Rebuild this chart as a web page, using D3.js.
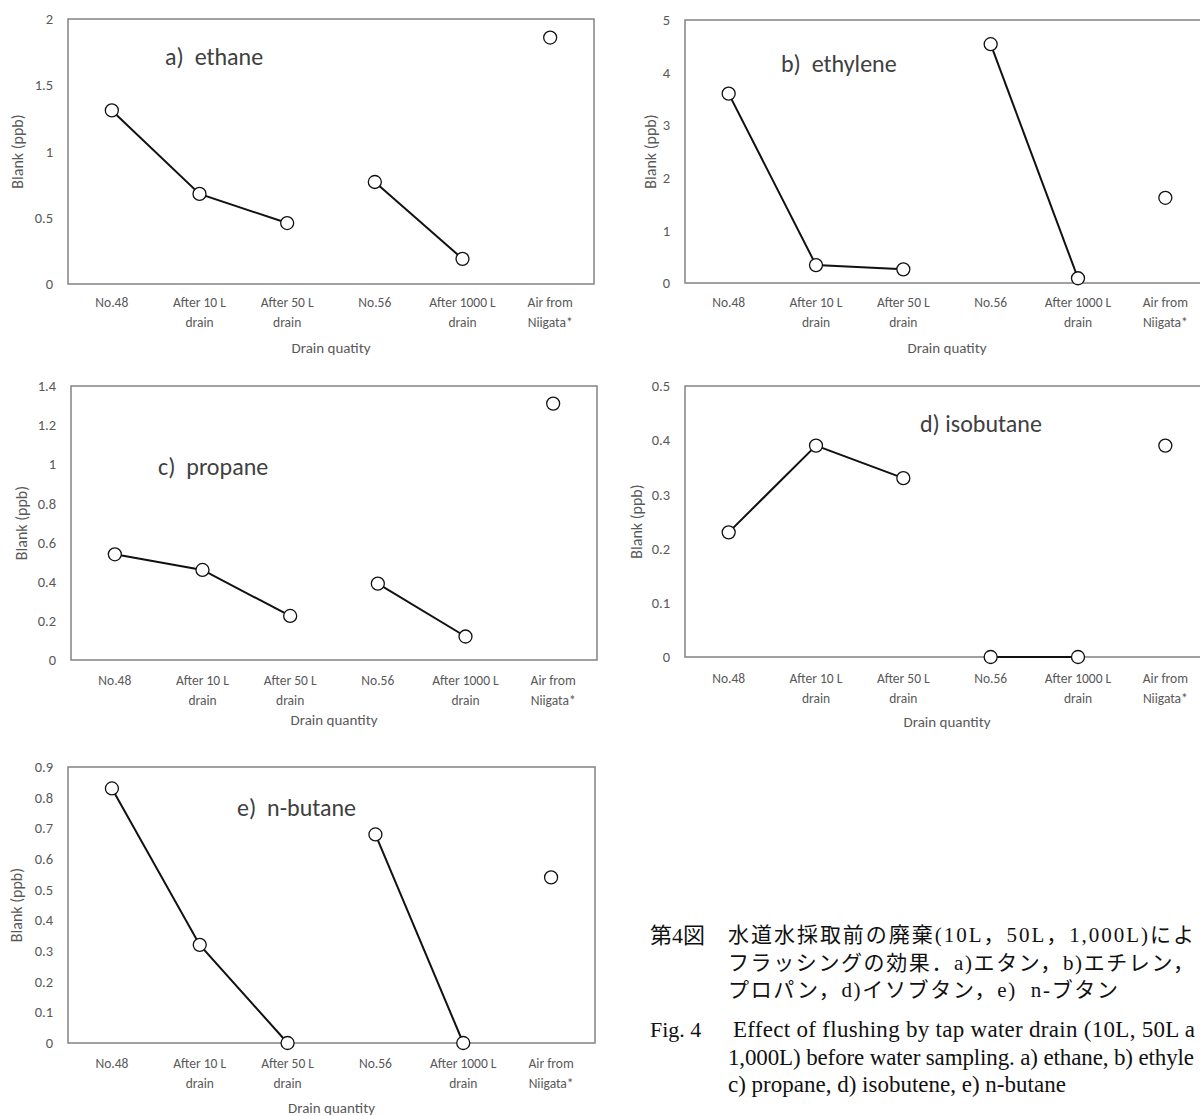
<!DOCTYPE html>
<html><head><meta charset="utf-8">
<script src="https://cdn.jsdelivr.net/npm/d3@7"></script>
<style>body{margin:0;background:#fff}svg{display:block}</style>
</head><body>
<svg id="chart" width="1200" height="1116"></svg>
<script>
// ---------- data ----------
const categories = ["No.48", "After 10 L\ndrain", "After 50 L\ndrain", "No.56", "After 1000 L\ndrain", "Air from\nNiigata*"];
const ethane    = [1.31, 0.68, 0.46, 0.77, 0.19, 1.86];
const ethylene  = [3.60, 0.34, 0.26, 4.54, 0.09, 1.62];
const propane   = [0.54, 0.46, 0.225, 0.39, 0.12, 1.31];
const isobutane = [0.23, 0.39, 0.33, 0, 0, 0.39];
const nButane   = [0.83, 0.32, 0, 0.68, 0, 0.54];
const ticksA = [0, 0.5, 1, 1.5, 2];
const ticksB = [0, 1, 2, 3, 4, 5];
const ticksC = [0, 0.2, 0.4, 0.6, 0.8, 1, 1.2, 1.4];
const ticksD = [0, 0.1, 0.2, 0.3, 0.4, 0.5];
const ticksE = [0, 0.1, 0.2, 0.3, 0.4, 0.5, 0.6, 0.7, 0.8, 0.9];
const segments = [[0, 1, 2], [3, 4], [5]];
const captionJa = ["水道水採取前の廃棄(10L，50L，1,000L)によ", "フラッシングの効果．a)エタン，b)エチレン，", "プロパン，d)イソブタン，e)  n-ブタン"];
const captionEn = ["Effect of flushing by tap water drain (10L, 50L a", "1,000L) before water sampling. a) ethane, b) ethyle", "c) propane, d) isobutene, e) n-butane"];

// ---------- layout ----------
const panels = [
  {title: "a)  ethane",   values: ethane,    ticks: ticksA, max: 2,   xTitle: "Drain quatity",  box: [68, 19, 594, 284],   tx: 165, ty: 57,  labR: 53,  yTx: 17,  tick1: 302, xTy: 348},
  {title: "b)  ethylene", values: ethylene,  ticks: ticksB, max: 5,   xTitle: "Drain quatity",  box: [685, 20, 1209, 283], tx: 781, ty: 64,  labR: 670, yTx: 650, tick1: 302, xTy: 348},
  {title: "c)  propane",  values: propane,   ticks: ticksC, max: 1.4, xTitle: "Drain quantity", box: [71, 386, 597, 660],  tx: 158, ty: 467, labR: 56,  yTx: 21,  tick1: 680, xTy: 720},
  {title: "d) isobutane", values: isobutane, ticks: ticksD, max: 0.5, xTitle: "Drain quantity", box: [685, 386, 1209, 657],tx: 920, ty: 424, labR: 670, yTx: 636, tick1: 678, xTy: 722},
  {title: "e)  n-butane", values: nButane,   ticks: ticksE, max: 0.9, xTitle: "Drain quantity", box: [68, 767, 595, 1043],  tx: 237, ty: 808, labR: 53,  yTx: 16,  tick1: 1063, xTy: 1108}
];

const svg = d3.select("#chart");
const FONT = "Carlito, Lato, 'Open Sans', sans-serif";
const GRAY = "#595959";

panels.forEach(p => {
  const [l, t, r, b] = p.box;
  const x = d3.scaleBand().domain(categories).range([l, r]);
  const y = d3.scaleLinear().domain([0, p.max]).range([b, t]);
  const cx = i => x(categories[i]) + x.bandwidth() / 2;
  const g = svg.append("g");

  // plot frame
  g.append("rect").attr("x", l).attr("y", t).attr("width", r - l).attr("height", b - t)
    .attr("fill", "none").attr("stroke", "#8a8a8a").attr("stroke-width", 1.6);

  // y axis
  const ya = g.append("g").attr("transform", `translate(${l},0)`)
    .call(d3.axisLeft(y).tickValues(p.ticks).tickSize(0).tickPadding(l - p.labR).tickFormat(d3.format("~g")));
  ya.select(".domain").remove();
  ya.selectAll("text").attr("font-family", FONT).attr("font-size", 14.5).attr("fill", GRAY);

  // x axis
  const xa = g.append("g").attr("transform", `translate(0,${b})`)
    .call(d3.axisBottom(x).tickSize(0));
  xa.select(".domain").remove();
  xa.selectAll(".tick text").each(function(d) {
    const s = d3.select(this);
    s.text(null).attr("y", null).attr("dy", null)
      .attr("font-family", FONT).attr("font-size", 13.5).attr("fill", GRAY);
    d.split("\n").forEach((line, i) => {
      s.append("tspan").attr("x", 0).attr("y", p.tick1 - b + i * 20).attr("dy", "0.35em").text(line);
    });
  });

  // axis titles
  g.append("text").attr("x", (l + r) / 2).attr("y", p.xTy).attr("dy", "0.35em")
    .attr("text-anchor", "middle").attr("font-family", FONT).attr("font-size", 15).attr("fill", GRAY)
    .text(p.xTitle);
  g.append("text").attr("transform", `translate(${p.yTx},${(t + b) / 2}) rotate(-90)`).attr("dy", "0.35em")
    .attr("text-anchor", "middle").attr("font-family", FONT).attr("font-size", 16).attr("fill", GRAY)
    .text("Blank (ppb)");

  // panel title
  g.append("text").attr("x", p.tx).attr("y", p.ty).attr("dy", "0.35em")
    .attr("font-family", FONT).attr("font-size", 24).attr("fill", "#404040")
    .style("white-space", "pre").text(p.title);

  // lines
  const line = d3.line().x(i => cx(i)).y(i => y(p.values[i]));
  segments.filter(s => s.length > 1).forEach(s => {
    g.append("path").attr("d", line(s)).attr("fill", "none").attr("stroke", "#111").attr("stroke-width", 2);
  });
  // markers
  g.selectAll("circle.m").data(p.values).join("circle").attr("class", "m")
    .attr("cx", (d, i) => cx(i)).attr("cy", d => y(d)).attr("r", 6.5)
    .attr("fill", "#fff").attr("stroke", "#111").attr("stroke-width", 1.3);
});

// ---------- caption ----------
const cap = svg.append("g").attr("font-family", "'Liberation Serif', 'Noto Sans CJK JP', serif").attr("fill", "#111");
const capYs = [935, 963, 990];
const capYsEn = [1029, 1057, 1084];
const jaLens = [466, 466, 390];
const enLens = [462, 466, null];
cap.append("text").attr("x", 650).attr("y", capYs[0]).attr("dy", "0.35em").attr("font-size", 22).text("第4図");
cap.append("text").attr("x", 650).attr("y", capYsEn[0]).attr("dy", "0.35em").attr("font-size", 22).text("Fig. 4");
captionJa.forEach((s, i) => {
  cap.append("text").attr("x", 728).attr("y", capYs[i]).attr("dy", "0.35em").attr("font-size", 21)
    .attr("textLength", jaLens[i]).attr("lengthAdjust", "spacing").style("white-space", "pre").text(s);
});
captionEn.forEach((s, i) => {
  const tx = cap.append("text").attr("x", i === 0 ? 733 : 728).attr("y", capYsEn[i]).attr("dy", "0.35em")
    .attr("font-size", 23).text(s);
  if (enLens[i]) tx.attr("textLength", enLens[i]).attr("lengthAdjust", "spacing");
});
</script>
</body></html>
